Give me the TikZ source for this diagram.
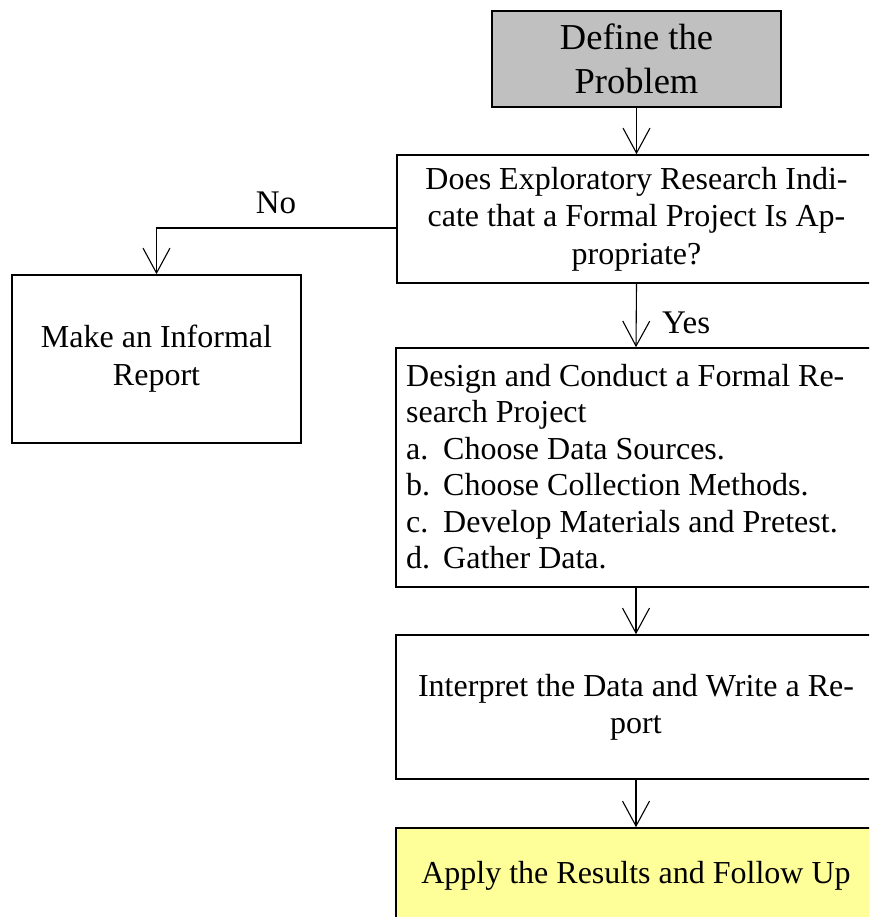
\documentclass[tikz,border=0pt]{standalone}
\usepackage{fontspec}
\setmainfont{Liberation Serif}
\usetikzlibrary{arrows.meta}
\definecolor{boxgray}{HTML}{C0C0C0}
\definecolor{boxyellow}{HTML}{FFFF99}
\tikzset{
  box/.style={draw=black, line width=1.6pt, rectangle, inner sep=0pt, align=center},
  arr/.style={line width=1.1pt, -{Straight Barb[length=25pt,width=27pt,line width=1.1pt]}},
  lbl/.style={inner sep=0pt, font=\fontsize{33}{38}\selectfont},
}
\begin{document}
\begin{tikzpicture}[x=1pt,y=-1pt]
\useasboundingbox (0,0) rectangle (869,917);
\clip (0,0) rectangle (869,917);
\fill[white] (0,0) rectangle (869,917);
% boxes
\node[box, fill=boxgray, minimum width=289pt, minimum height=96pt,
      font=\fontsize{36.5}{44}\selectfont] (define) at (636.5,59) {Define the\\Problem};
\node[box, minimum width=479pt, minimum height=128pt,
      font=\fontsize{32}{37.5}\selectfont] (decision) at (636.5,219)
      {Does Exploratory Research Indi-\\cate that a Formal Project Is Ap-\\propriate?};
\node[box, minimum width=289pt, minimum height=168pt,
      font=\fontsize{32}{38}\selectfont] (informal) at (156.5,359) {Make an Informal\\Report};
\node[box, minimum width=480pt, minimum height=239pt] (design) at (636,467.5) {};
\node[inner sep=0pt, anchor=north west, align=left,
      font=\fontsize{32}{36.5}\selectfont] (designtxt) at (406,364)
      {Design and Conduct a Formal Re-\\search Project\\
       \makebox[37pt][l]{a.}Choose Data Sources.\\
       \makebox[37pt][l]{b.}Choose Collection Methods.\\
       \makebox[37pt][l]{c.}Develop Materials and Pretest.\\
       \makebox[37pt][l]{d.}Gather Data.};
\node[box, minimum width=480pt, minimum height=144pt,
      font=\fontsize{32}{37}\selectfont] (interpret) at (636,707)
      {Interpret the Data and Write a Re-\\port};
\node[box, fill=boxyellow, minimum width=480pt, minimum height=110pt] (apply) at (636,883) {};
\node[inner sep=0pt, anchor=base, font=\fontsize{32}{37}\selectfont] (applytxt) at (636,883)
      {Apply the Results and Follow Up};
% connectors
\draw[arr] (define.south) -- (decision.north);
\draw[arr] ([yshift=-9pt]decision.west) -| (informal.north);
\draw[arr] (decision.south) -- (design.north);
\draw[arr] (design.south) -- (interpret.north);
\draw[arr] (interpret.south) -- (apply.north);
% labels
\node[lbl, anchor=base] (no) at (276,214) {No};
\node[lbl, anchor=base west] (yes) at (662,333) {Yes};
\end{tikzpicture}
\end{document}
